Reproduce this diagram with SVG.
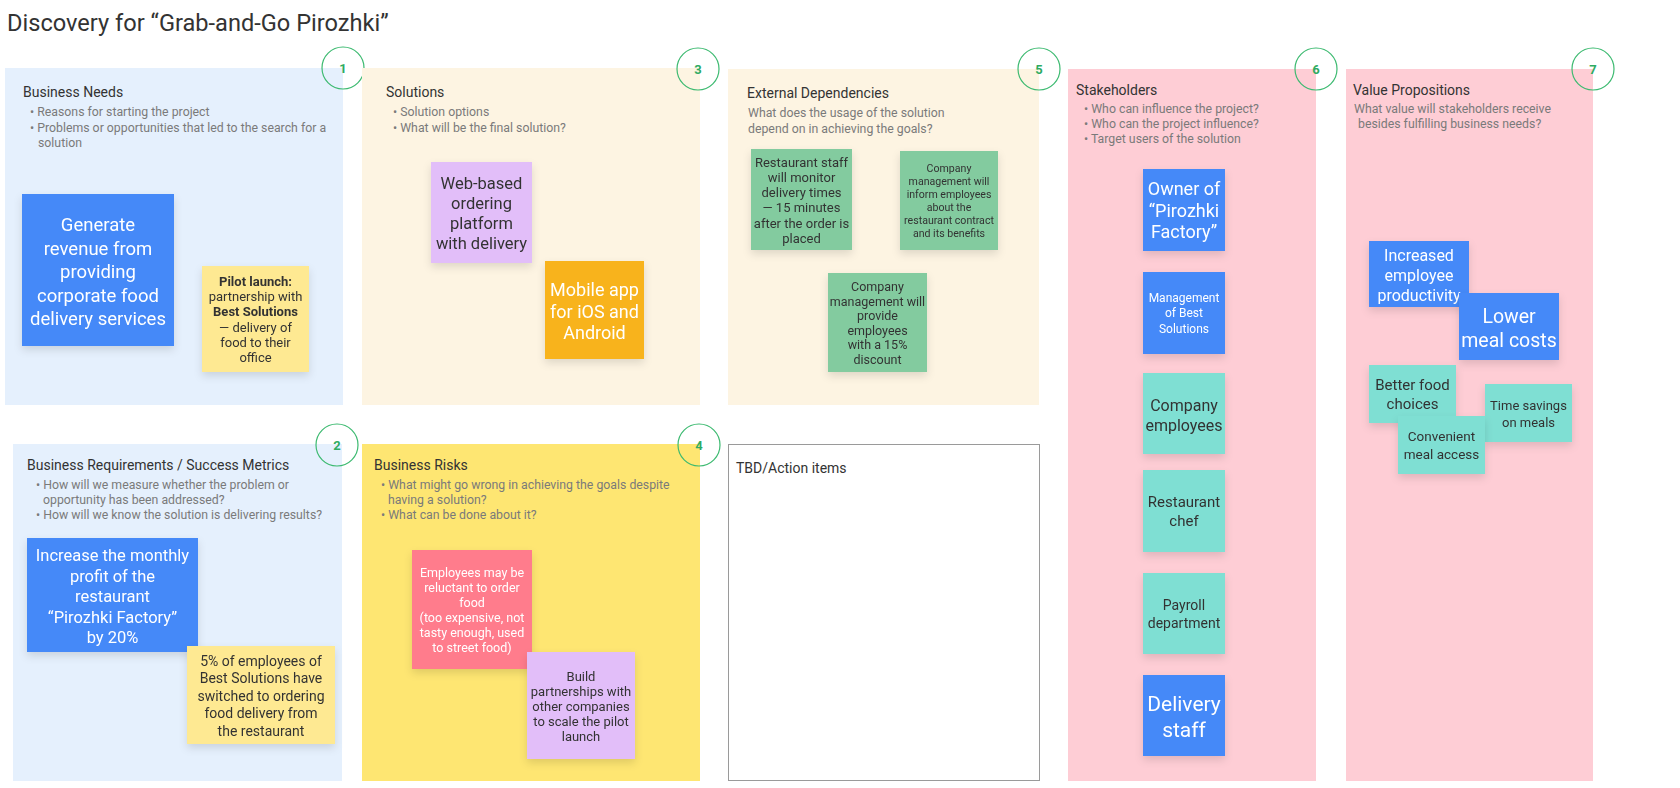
<svg xmlns="http://www.w3.org/2000/svg" width="1680" height="788" viewBox="0 0 1680 788">
<defs>
<style>
text{font-family:Roboto,"Liberation Sans",Arial,sans-serif}
.title{font-size:23.6px;fill:#333}
.h{font-size:14px;fill:#333}
.sub{font-size:12.3px;fill:#7a7a7a}
.num{font-size:13px;font-weight:bold;fill:#2fab62;text-anchor:middle}
.badge{fill:none;stroke:#3cba70;stroke-width:1.2}
.c{text-anchor:middle}
.w{fill:#fff}
.d{fill:#333}
.blue{fill:#4489f8}
.teal{fill:#7fdfd3}
.green{fill:#83cb9f}
.yel{fill:#fee992}
.lav{fill:#e2bef9}
.org{fill:#f8b31c}
.pnk{fill:#ff7b8c}
</style>
<filter id="sh" x="-20%" y="-20%" width="140%" height="150%">
<feDropShadow dx="0" dy="4" stdDeviation="4" flood-color="#000" flood-opacity="0.12"/>
</filter>
</defs>
<rect width="1680" height="788" fill="#fff"/>
<text class="title" x="7" y="31">Discovery for “Grab-and-Go Pirozhki”</text>

<g id="panel-business-needs">
<rect x="5" y="68" width="338" height="337" fill="#e5f0fd"/>
<text class="h" x="23" y="97">Business Needs</text>
<text class="sub" x="30" y="116">• Reasons for starting the project</text>
<text class="sub" x="30" y="132">• Problems or opportunities that led to the search for a</text>
<text class="sub" x="38" y="147">solution</text>
<circle class="badge" cx="343" cy="68" r="21"/><text class="num" x="343" y="73">1</text>
</g>
<g id="panel-solutions">
<rect x="362" y="68" width="338" height="337" fill="#fdf4e2"/>
<text class="h" x="386" y="97">Solutions</text>
<text class="sub" x="393" y="116">• Solution options</text>
<text class="sub" x="393" y="132">• What will be the final solution?</text>
<circle class="badge" cx="698" cy="69" r="21"/><text class="num" x="698" y="74">3</text>
</g>
<g id="panel-external">
<rect x="728" y="69" width="311" height="336" fill="#fdf4e2"/>
<text class="h" x="747" y="98">External Dependencies</text>
<text class="sub" x="748" y="117">What does the usage of the solution</text>
<text class="sub" x="748" y="133">depend on in achieving the goals?</text>
<circle class="badge" cx="1039" cy="69" r="21"/><text class="num" x="1039" y="74">5</text>
</g>
<g id="panel-stakeholders">
<rect x="1068" y="69" width="248" height="712" fill="#fecdd5"/>
<text class="h" x="1076" y="95">Stakeholders</text>
<text class="sub" x="1084" y="113">• Who can influence the project?</text>
<text class="sub" x="1084" y="128">• Who can the project influence?</text>
<text class="sub" x="1084" y="143">• Target users of the solution</text>
<circle class="badge" cx="1316" cy="69" r="21"/><text class="num" x="1316" y="74">6</text>
</g>
<g id="panel-value">
<rect x="1346" y="69" width="247" height="712" fill="#fecdd5"/>
<text class="h" x="1353" y="95">Value Propositions</text>
<text class="sub" x="1354" y="113">What value will stakeholders receive</text>
<text class="sub" x="1358" y="128">besides fulfilling business needs?</text>
<circle class="badge" cx="1593" cy="69" r="21"/><text class="num" x="1593" y="74">7</text>
</g>
<g id="panel-requirements">
<rect x="13" y="444" width="329" height="337" fill="#e5f0fd"/>
<text class="h" x="27" y="470">Business Requirements / Success Metrics</text>
<text class="sub" x="36" y="489">• How will we measure whether the problem or</text>
<text class="sub" x="43" y="504">opportunity has been addressed?</text>
<text class="sub" x="36" y="519">• How will we know the solution is delivering results?</text>
<circle class="badge" cx="337" cy="445" r="21"/><text class="num" x="337" y="450">2</text>
</g>
<g id="panel-risks">
<rect x="362" y="444" width="338" height="337" fill="#fee672"/>
<text class="h" x="374" y="470">Business Risks</text>
<text class="sub" x="381" y="489">• What might go wrong in achieving the goals despite</text>
<text class="sub" x="388" y="504">having a solution?</text>
<text class="sub" x="381" y="519">• What can be done about it?</text>
<circle class="badge" cx="699" cy="445" r="21"/><text class="num" x="699" y="450">4</text>
</g>
<g id="panel-tbd">
<rect x="728.5" y="444.5" width="311" height="336" fill="#fff" stroke="#9a9a9a" stroke-width="1"/>
<text class="h" x="736" y="473">TBD/Action items</text>
</g>

<g id="sticky-generate" filter="url(#sh)">
<rect class="blue" x="22" y="194" width="152" height="152"/>
<text class="c w" font-size="18.5"><tspan x="98" y="231">Generate</tspan><tspan x="98" y="255">revenue from</tspan><tspan x="98" y="278">providing</tspan><tspan x="98" y="302">corporate food</tspan><tspan x="98" y="325">delivery services</tspan></text>
</g>
<g id="sticky-pilot" filter="url(#sh)">
<rect class="yel" x="202" y="266" width="107" height="106"/>
<text class="c d" font-size="13"><tspan x="255.5" y="286" font-weight="bold">Pilot launch:</tspan><tspan x="255.5" y="301">partnership with</tspan><tspan x="255.5" y="316" font-weight="bold">Best Solutions</tspan><tspan x="255.5" y="332">— delivery of</tspan><tspan x="255.5" y="347">food to their</tspan><tspan x="255.5" y="362">office</tspan></text>
</g>
<g id="sticky-web" filter="url(#sh)">
<rect class="lav" x="431" y="162" width="101" height="101"/>
<text class="c d" font-size="16.5"><tspan x="481.5" y="189">Web-based</tspan><tspan x="481.5" y="209">ordering</tspan><tspan x="481.5" y="229">platform</tspan><tspan x="481.5" y="249">with delivery</tspan></text>
</g>
<g id="sticky-mobile" filter="url(#sh)">
<rect class="org" x="545" y="261" width="99" height="98"/>
<text class="c w" font-size="18"><tspan x="594.5" y="296">Mobile app</tspan><tspan x="594.5" y="318">for iOS and</tspan><tspan x="594.5" y="339">Android</tspan></text>
</g>
<g id="sticky-monitor" filter="url(#sh)">
<rect class="green" x="751" y="149" width="101" height="101"/>
<text class="c d" font-size="13"><tspan x="801.5" y="167">Restaurant staff</tspan><tspan x="801.5" y="182">will monitor</tspan><tspan x="801.5" y="197">delivery times</tspan><tspan x="801.5" y="212">— 15 minutes</tspan><tspan x="801.5" y="228">after the order is</tspan><tspan x="801.5" y="243">placed</tspan></text>
</g>
<g id="sticky-inform" filter="url(#sh)">
<rect class="green" x="900" y="151" width="98" height="99"/>
<text class="c d" font-size="10.6"><tspan x="949" y="172">Company</tspan><tspan x="949" y="185">management will</tspan><tspan x="949" y="198">inform employees</tspan><tspan x="949" y="211">about the</tspan><tspan x="949" y="224">restaurant contract</tspan><tspan x="949" y="237">and its benefits</tspan></text>
</g>
<g id="sticky-discount" filter="url(#sh)">
<rect class="green" x="828" y="273" width="99" height="99"/>
<text class="c d" font-size="12.5"><tspan x="877.5" y="291">Company</tspan><tspan x="877.5" y="306">management will</tspan><tspan x="877.5" y="320">provide</tspan><tspan x="877.5" y="335">employees</tspan><tspan x="877.5" y="349">with a 15%</tspan><tspan x="877.5" y="364">discount</tspan></text>
</g>

<g id="sticky-owner" filter="url(#sh)">
<rect class="blue" x="1143" y="169" width="82" height="82"/>
<text class="c w" font-size="18"><tspan x="1184" y="195">Owner of</tspan><tspan x="1184" y="217">“Pirozhki</tspan><tspan x="1184" y="238">Factory”</tspan></text>
</g>
<g id="sticky-management" filter="url(#sh)">
<rect class="blue" x="1143" y="272" width="82" height="82"/>
<text class="c w" font-size="12"><tspan x="1184" y="302">Management</tspan><tspan x="1184" y="317">of Best</tspan><tspan x="1184" y="333">Solutions</tspan></text>
</g>
<g id="sticky-employees" filter="url(#sh)">
<rect class="teal" x="1143" y="373" width="82" height="81"/>
<text class="c d" font-size="16"><tspan x="1184" y="411">Company</tspan><tspan x="1184" y="431">employees</tspan></text>
</g>
<g id="sticky-chef" filter="url(#sh)">
<rect class="teal" x="1143" y="470" width="82" height="82"/>
<text class="c d" font-size="15"><tspan x="1184" y="507">Restaurant</tspan><tspan x="1184" y="526">chef</tspan></text>
</g>
<g id="sticky-payroll" filter="url(#sh)">
<rect class="teal" x="1143" y="573" width="82" height="81"/>
<text class="c d" font-size="14"><tspan x="1184" y="610">Payroll</tspan><tspan x="1184" y="628">department</tspan></text>
</g>
<g id="sticky-delivery" filter="url(#sh)">
<rect class="blue" x="1143" y="675" width="82" height="81"/>
<text class="c w" font-size="21"><tspan x="1184" y="711">Delivery</tspan><tspan x="1184" y="737">staff</tspan></text>
</g>

<g id="sticky-productivity" filter="url(#sh)">
<rect class="blue" x="1369" y="241" width="100" height="66"/>
<text class="c w" font-size="16"><tspan x="1419" y="261">Increased</tspan><tspan x="1419" y="281">employee</tspan><tspan x="1419" y="301">productivity</tspan></text>
</g>
<g id="sticky-lower" filter="url(#sh)">
<rect class="blue" x="1459" y="293" width="100" height="67"/>
<text class="c w" font-size="19.5"><tspan x="1509" y="323">Lower</tspan><tspan x="1509" y="347">meal costs</tspan></text>
</g>
<g id="sticky-better" filter="url(#sh)">
<rect class="teal" x="1369" y="365" width="87" height="58"/>
<text class="c d" font-size="15"><tspan x="1412.5" y="390">Better food</tspan><tspan x="1412.5" y="409">choices</tspan></text>
</g>
<g id="sticky-time" filter="url(#sh)">
<rect class="teal" x="1485" y="384" width="87" height="58"/>
<text class="c d" font-size="13"><tspan x="1528.5" y="410">Time savings</tspan><tspan x="1528.5" y="427">on meals</tspan></text>
</g>
<g id="sticky-convenient" filter="url(#sh)">
<rect class="teal" x="1398" y="416" width="87" height="58"/>
<text class="c d" font-size="13.5"><tspan x="1441.5" y="441">Convenient</tspan><tspan x="1441.5" y="459">meal access</tspan></text>
</g>

<g id="sticky-profit" filter="url(#sh)">
<rect class="blue" x="27" y="538" width="171" height="114"/>
<text class="c w" font-size="16.5"><tspan x="112.5" y="561">Increase the monthly</tspan><tspan x="112.5" y="582">profit of the</tspan><tspan x="112.5" y="602">restaurant</tspan><tspan x="112.5" y="623">“Pirozhki Factory”</tspan><tspan x="112.5" y="643">by 20%</tspan></text>
</g>
<g id="sticky-switched" filter="url(#sh)">
<rect class="yel" x="187" y="646" width="148" height="98"/>
<text class="c d" font-size="14"><tspan x="261" y="666">5% of employees of</tspan><tspan x="261" y="683">Best Solutions have</tspan><tspan x="261" y="701">switched to ordering</tspan><tspan x="261" y="718">food delivery from</tspan><tspan x="261" y="736">the restaurant</tspan></text>
</g>
<g id="sticky-reluctant" filter="url(#sh)">
<rect class="pnk" x="412" y="550" width="120" height="119"/>
<text class="c w" font-size="12.5"><tspan x="472" y="577">Employees may be</tspan><tspan x="472" y="592">reluctant to order</tspan><tspan x="472" y="607">food</tspan><tspan x="472" y="622">(too expensive, not</tspan><tspan x="472" y="637">tasty enough, used</tspan><tspan x="472" y="652">to street food)</tspan></text>
</g>
<g id="sticky-partnerships" filter="url(#sh)">
<rect class="lav" x="527" y="652" width="108" height="107"/>
<text class="c d" font-size="13"><tspan x="581" y="681">Build</tspan><tspan x="581" y="696">partnerships with</tspan><tspan x="581" y="711">other companies</tspan><tspan x="581" y="726">to scale the pilot</tspan><tspan x="581" y="741">launch</tspan></text>
</g>
<g id="connectors"/>
</svg>
